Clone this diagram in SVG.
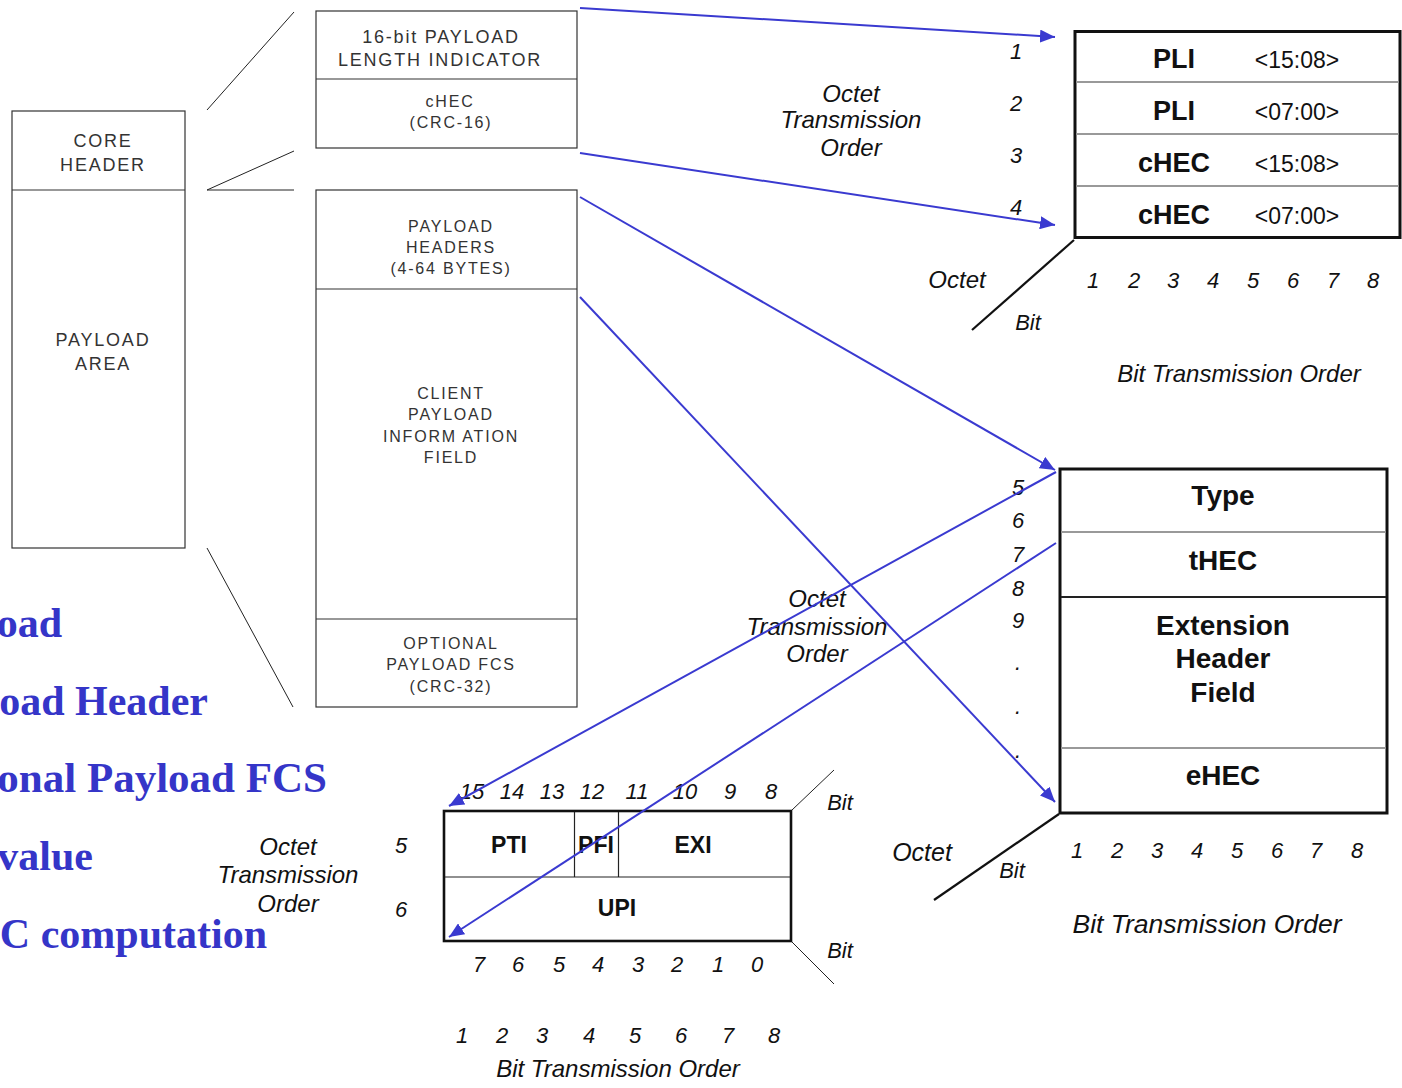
<svg xmlns="http://www.w3.org/2000/svg" width="1402" height="1088" viewBox="0 0 1402 1088">
  <defs>
    <style>
      .frame { fill: #fff; stroke: #333; stroke-width: 1.2; }
      .sep { stroke: #333; stroke-width: 1.2; }
      .thin { stroke: #222; stroke-width: 1; fill: none; }
      .axis { stroke: #111; stroke-width: 2.2; fill: none; }
      .tbl { fill: #fff; stroke: #111; stroke-width: 3; }
      .rowg { stroke: #999; stroke-width: 2; }
      .rowd { stroke: #222; stroke-width: 2; }
      .cell { stroke: #222; stroke-width: 1.2; }
      .cap { font-family: "Liberation Sans", Arial, sans-serif; fill: #333; text-anchor: middle; }
      .c18 { font-size: 18px; letter-spacing: 1.8px; }
      .c16 { font-size: 16px; letter-spacing: 1.8px; }
      .it { font-family: "Liberation Sans", Arial, sans-serif; font-style: italic; fill: #111; text-anchor: middle; }
      .n { font-size: 22px; }
      .l24 { font-size: 24px; }
      .b { font-family: "Liberation Sans", Arial, sans-serif; font-weight: bold; fill: #111; text-anchor: middle; }
      .b27 { font-size: 27px; }
      .b28 { font-size: 28px; }
      .reg { font-family: "Liberation Sans", Arial, sans-serif; fill: #111; font-size: 23px; text-anchor: middle; }
      .note { font-family: "Liberation Serif", "Times New Roman", serif; font-weight: bold; font-size: 42px; fill: #3535c8; text-anchor: end; }
      .arrow { stroke: #3a3ad0; stroke-width: 2; fill: none; marker-end: url(#ah); }
    </style>
    <marker id="ah" markerUnits="userSpaceOnUse" markerWidth="16" markerHeight="13" refX="15" refY="6.5" orient="auto">
      <path d="M0,0 L15,6.5 L0,13 z" fill="#3a3ad0"/>
    </marker>
  </defs>

  <!-- GFP frame: core header + payload area -->
  <g id="gfp-frame">
    <rect class="frame" x="12" y="111" width="173" height="437"/>
    <line class="sep" x1="12" y1="190" x2="185" y2="190"/>
    <text class="cap c18" x="103" y="147">CORE</text>
    <text class="cap c18" x="103" y="171">HEADER</text>
    <text class="cap c18" x="103" y="346">PAYLOAD</text>
    <text class="cap c18" x="103" y="370">AREA</text>
  </g>

  <!-- Core header fields -->
  <g id="core-header-fields">
    <rect class="frame" x="316" y="11" width="261" height="137"/>
    <line class="sep" x1="316" y1="79" x2="577" y2="79"/>
    <text class="cap c18" x="441" y="43">16-bit PAYLOAD</text>
    <text class="cap c18" x="440" y="66">LENGTH INDICATOR</text>
    <text class="cap c16" x="450" y="107">cHEC</text>
    <text class="cap c16" x="451" y="128">(CRC-16)</text>
  </g>

  <!-- Payload area fields -->
  <g id="payload-area-fields">
    <rect class="frame" x="316" y="190" width="261" height="517"/>
    <line class="sep" x1="316" y1="289" x2="577" y2="289"/>
    <line class="sep" x1="316" y1="619" x2="577" y2="619"/>
    <text class="cap c16" x="451" y="232">PAYLOAD</text>
    <text class="cap c16" x="451" y="253">HEADERS</text>
    <text class="cap c16" x="451" y="274">(4-64 BYTES)</text>
    <text class="cap c16" x="451" y="399">CLIENT</text>
    <text class="cap c16" x="451" y="420">PAYLOAD</text>
    <text class="cap c16" x="451" y="442">INFORM ATION</text>
    <text class="cap c16" x="451" y="463">FIELD</text>
    <text class="cap c16" x="451" y="649">OPTIONAL</text>
    <text class="cap c16" x="451" y="670">PAYLOAD FCS</text>
    <text class="cap c16" x="451" y="692">(CRC-32)</text>
  </g>

  <!-- Expansion guide lines -->
  <g id="expansion-lines">
    <line class="thin" x1="207" y1="110" x2="294" y2="12"/>
    <line class="thin" x1="207" y1="190" x2="294" y2="151"/>
    <line class="thin" x1="207" y1="190" x2="294" y2="190"/>
    <line class="thin" x1="207" y1="548" x2="293" y2="707"/>
  </g>

  <!-- Core header octets -->
  <g id="core-header-octets">
    <rect class="tbl" x="1075" y="31.5" width="325" height="206"/>
    <line class="rowg" x1="1076" y1="82" x2="1399" y2="82"/>
    <line class="rowg" x1="1076" y1="134" x2="1399" y2="134"/>
    <line class="rowg" x1="1076" y1="186" x2="1399" y2="186"/>
    <text class="b b27" x="1174" y="68">PLI</text>
    <text class="reg" x="1297" y="68">&lt;15:08&gt;</text>
    <text class="b b27" x="1174" y="120">PLI</text>
    <text class="reg" x="1297" y="120">&lt;07:00&gt;</text>
    <text class="b b27" x="1174" y="172">cHEC</text>
    <text class="reg" x="1297" y="172">&lt;15:08&gt;</text>
    <text class="b b27" x="1174" y="224">cHEC</text>
    <text class="reg" x="1297" y="224">&lt;07:00&gt;</text>
    <line class="axis" x1="1074" y1="240" x2="972" y2="330"/>
    <text class="it n" x="1016" y="59">1</text>
    <text class="it n" x="1016" y="111">2</text>
    <text class="it n" x="1016" y="163">3</text>
    <text class="it n" x="1016" y="215">4</text>
    <text class="it l24" x="851" y="102">Octet</text>
    <text class="it l24" x="851" y="128">Transmission</text>
    <text class="it l24" x="851" y="156">Order</text>
    <text class="it l24" x="957" y="288">Octet</text>
    <text class="it n" x="1028" y="330">Bit</text>
    <text class="it n" x="1093" y="288">1</text>
    <text class="it n" x="1134" y="288">2</text>
    <text class="it n" x="1173" y="288">3</text>
    <text class="it n" x="1213" y="288">4</text>
    <text class="it n" x="1253" y="288">5</text>
    <text class="it n" x="1293" y="288">6</text>
    <text class="it n" x="1333" y="288">7</text>
    <text class="it n" x="1373" y="288">8</text>
    <text class="it l24" x="1239" y="382">Bit Transmission Order</text>
  </g>

  <!-- Payload type header octets -->
  <g id="payload-header-octets">
    <rect class="tbl" x="1060" y="469" width="327" height="344"/>
    <line class="rowg" x1="1061" y1="532" x2="1386" y2="532"/>
    <line class="rowd" x1="1061" y1="597" x2="1386" y2="597"/>
    <line class="rowg" x1="1061" y1="748" x2="1386" y2="748"/>
    <text class="b b28" x="1223" y="505">Type</text>
    <text class="b b28" x="1223" y="570">tHEC</text>
    <text class="b b28" x="1223" y="635">Extension</text>
    <text class="b b28" x="1223" y="668">Header</text>
    <text class="b b28" x="1223" y="702">Field</text>
    <text class="b b28" x="1223" y="785">eHEC</text>
    <line class="axis" x1="1059" y1="814" x2="934" y2="900"/>
    <text class="it n" x="1018" y="495">5</text>
    <text class="it n" x="1018" y="528">6</text>
    <text class="it n" x="1018" y="562">7</text>
    <text class="it n" x="1018" y="596">8</text>
    <text class="it n" x="1018" y="628">9</text>
    <text class="it n" x="1018" y="670">.</text>
    <text class="it n" x="1018" y="714">.</text>
    <text class="it n" x="1018" y="758">.</text>
    <text class="it l24" x="817" y="607">Octet</text>
    <text class="it l24" x="817" y="635">Transmission</text>
    <text class="it l24" x="817" y="662">Order</text>
    <text class="it" font-size="25" x="922" y="861">Octet</text>
    <text class="it n" x="1012" y="878">Bit</text>
    <text class="it n" x="1077" y="858">1</text>
    <text class="it n" x="1117" y="858">2</text>
    <text class="it n" x="1157" y="858">3</text>
    <text class="it n" x="1197" y="858">4</text>
    <text class="it n" x="1237" y="858">5</text>
    <text class="it n" x="1277" y="858">6</text>
    <text class="it n" x="1316" y="858">7</text>
    <text class="it n" x="1357" y="858">8</text>
    <text class="it" font-size="26.5" x="1207" y="933">Bit Transmission Order</text>
  </g>

  <!-- Type field bits -->
  <g id="type-field-bits">
    <rect class="tbl" x="444" y="811" width="347" height="130" style="stroke-width:2.6"/>
    <line class="cell" x1="445" y1="877" x2="790" y2="877"/>
    <line class="cell" x1="574.5" y1="812" x2="574.5" y2="877"/>
    <line class="cell" x1="618.5" y1="812" x2="618.5" y2="877"/>
    <text class="b" font-size="23" x="509" y="853">PTI</text>
    <text class="b" font-size="23" x="596" y="853">PFI</text>
    <text class="b" font-size="23" x="693" y="853">EXI</text>
    <text class="b" font-size="23" x="617" y="916">UPI</text>
    <line class="thin" x1="792" y1="810" x2="834" y2="770"/>
    <line class="thin" x1="792" y1="942" x2="834" y2="984"/>
    <text class="it n" x="840" y="810">Bit</text>
    <text class="it n" x="840" y="958">Bit</text>
    <text class="it n" x="472" y="799">15</text>
    <text class="it n" x="512" y="799">14</text>
    <text class="it n" x="552" y="799">13</text>
    <text class="it n" x="592" y="799">12</text>
    <text class="it n" x="637" y="799">11</text>
    <text class="it n" x="685" y="799">10</text>
    <text class="it n" x="730" y="799">9</text>
    <text class="it n" x="771" y="799">8</text>
    <text class="it n" x="479" y="972">7</text>
    <text class="it n" x="518" y="972">6</text>
    <text class="it n" x="559" y="972">5</text>
    <text class="it n" x="598" y="972">4</text>
    <text class="it n" x="638" y="972">3</text>
    <text class="it n" x="677" y="972">2</text>
    <text class="it n" x="718" y="972">1</text>
    <text class="it n" x="757" y="972">0</text>
    <text class="it n" x="462" y="1043">1</text>
    <text class="it n" x="502" y="1043">2</text>
    <text class="it n" x="542" y="1043">3</text>
    <text class="it n" x="589" y="1043">4</text>
    <text class="it n" x="635" y="1043">5</text>
    <text class="it n" x="681" y="1043">6</text>
    <text class="it n" x="728" y="1043">7</text>
    <text class="it n" x="774" y="1043">8</text>
    <text class="it l24" x="618" y="1077">Bit Transmission Order</text>
    <text class="it n" x="401" y="853">5</text>
    <text class="it n" x="401" y="917">6</text>
    <text class="it l24" x="288" y="855">Octet</text>
    <text class="it l24" x="288" y="883">Transmission</text>
    <text class="it l24" x="288" y="912">Order</text>
  </g>

  <!-- Slide bullet text -->
  <g id="notes">
    <text class="note" x="62" y="637">oad</text>
    <text class="note" x="208" y="715">oad Header</text>
    <text class="note" x="327" y="792" style="font-size:43px">onal Payload FCS</text>
    <text class="note" x="93" y="870">value</text>
    <text class="note" x="267" y="948">C computation</text>
  </g>

  <!-- Octet transmission connectors -->
  <g id="connectors">
    <line class="arrow" x1="580" y1="8" x2="1055" y2="37"/>
    <line class="arrow" x1="580" y1="153" x2="1055" y2="225"/>
    <line class="arrow" x1="580" y1="197" x2="1055" y2="470"/>
    <line class="arrow" x1="580" y1="297" x2="1055" y2="802"/>
    <line class="arrow" x1="1056" y1="472" x2="449" y2="806"/>
    <line class="arrow" x1="1056" y1="543" x2="449" y2="937"/>
  </g>
</svg>
